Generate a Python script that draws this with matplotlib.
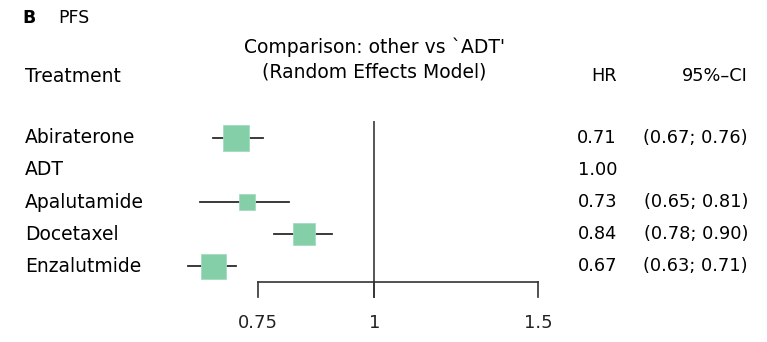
import numpy as np
import matplotlib.pyplot as plt

# Datos
treatments = ['Abiraterone', 'ADT', 'Apalutamide', 'Docetaxel', 'Enzalutmide']
hr = [0.71, 1.00, 0.73, 0.84, 0.67]
ci_low = [0.67, np.nan, 0.65, 0.78, 0.63]
ci_high = [0.76, np.nan, 0.81, 0.90, 0.71]
weight = [26, 0, 16, 23, 25]   # peso relativo (tamaño de la caja)
x_ticks = [0.75, 1, 1.5]
x_tick_labels = ['0.75', '1', '1.5']

W, H = 767, 342
fig = plt.figure(figsize=(W / 100, H / 100), dpi=100)
plt.rcParams['font.family'] = ['DejaVu Sans']

# Ejes del forest plot (escala log)
left_px, right_px, top_px, bot_px = 168, 564, 115, 300
ax = fig.add_axes([left_px / W, 1 - bot_px / H,
                   (right_px - left_px) / W, (bot_px - top_px) / H])
ax.set_xscale('log')
ax.set_xlim(0.6, 1.6)
row_px, row_step = 138, 32
ax.set_ylim((bot_px - row_px) / row_step, (top_px - row_px) / row_step)
ax.axis('off')

box_color = '#84cfa8'
line_color = '#2b2b2b'

for i, t in enumerate(treatments):
    if not np.isnan(ci_low[i]):
        ax.plot([ci_low[i], ci_high[i]], [i, i], color=line_color, lw=1.3,
                zorder=2)
    if weight[i] > 0:
        ax.plot(hr[i], i, marker='s', ms=weight[i] * 0.72, color=box_color,
                markeredgecolor='#a3dcbf', markeredgewidth=0.6, zorder=3)

# Línea de referencia y eje
ax.plot([1, 1], [-0.5, 4.97], color='#555555', lw=1.4, zorder=1)
ax.plot([x_ticks[0], x_ticks[-1]], [4.5, 4.5], color='#333333', lw=1.2,
        clip_on=False)
for xt, lab in zip(x_ticks, x_tick_labels):
    ax.plot([xt, xt], [4.5, 4.97], color='#333333', lw=1.2, clip_on=False)
    ax.text(xt, 5.78, lab, ha='center', va='center', fontsize=13,
            color='#222222', clip_on=False)

# Textos
fs = 13.5
fn = 12.8
fig.text(22 / W, 1 - 18 / H, 'B', fontsize=12.5, fontweight='bold',
         va='center', ha='left')
fig.text(58 / W, 1 - 18 / H, 'PFS', fontsize=12.5, va='center', ha='left')
fig.text(25 / W, 1 - 76 / H, 'Treatment', fontsize=fs, va='center')
fig.text(374 / W, 1 - 47 / H, "Comparison: other vs `ADT'", fontsize=fs,
         va='center', ha='center')
fig.text(374 / W, 1 - 72 / H, '(Random Effects Model)', fontsize=fs,
         va='center', ha='center')
fig.text(617 / W, 1 - 76 / H, 'HR', fontsize=fn, va='center', ha='right')
fig.text(748 / W, 1 - 76 / H, '95%\u2013CI', fontsize=fn, va='center',
         ha='right')

for i, t in enumerate(treatments):
    y = 1 - (row_px + row_step * i) / H
    fig.text(25 / W, y, t, fontsize=fs, va='center')
    fig.text(617 / W, y, '%.2f' % hr[i], fontsize=fn, va='center',
             ha='right')
    if not np.isnan(ci_low[i]):
        fig.text(748 / W, y, '(%.2f; %.2f)' % (ci_low[i], ci_high[i]),
                 fontsize=fn, va='center', ha='right')

fig.savefig('out.png', dpi=100)
